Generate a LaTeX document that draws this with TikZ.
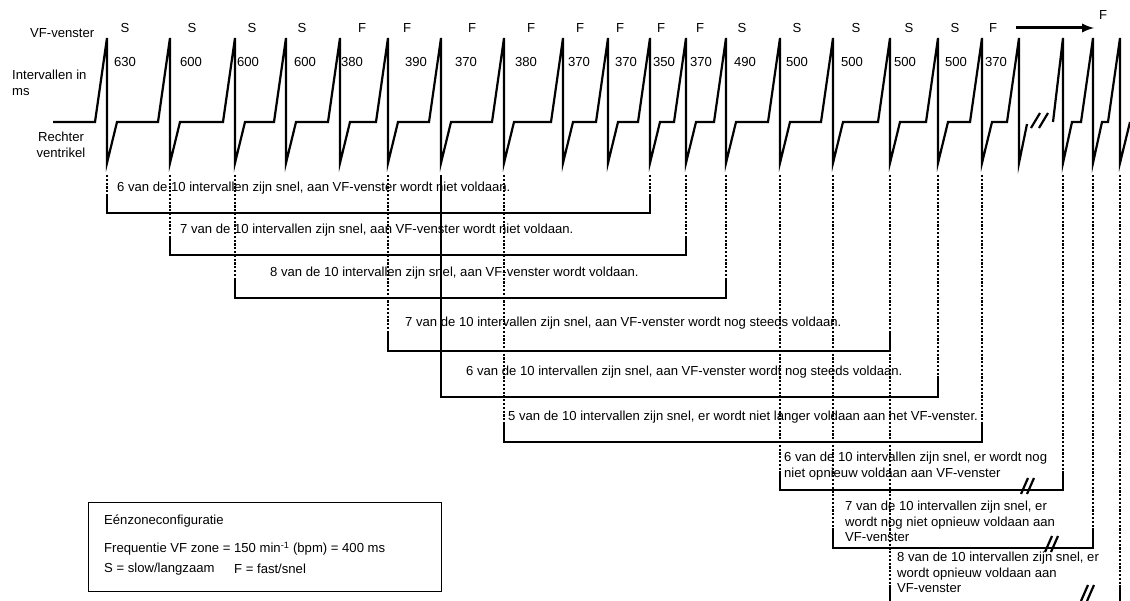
\documentclass[tikz,border=0pt]{standalone}
\usepackage{fontspec}
\setmainfont{Liberation Sans}

\begin{document}
\begin{tikzpicture}[x=1pt,y=-1pt]
 \tikzstyle{tekst}=[inner sep=0pt,font=\fontsize{13.1}{15.5}\selectfont]
 \tikzstyle{golf}=[line width=2.2pt]
 \tikzstyle{rand}=[line width=1.3pt]
 \tikzstyle{stip}=[line width=1.2pt,dash pattern=on 2.2pt off 1.6pt]
 \tikzstyle{pijl}=[->,>=latex,line width=3pt]
 \useasboundingbox (0,0) rectangle (1130,601);
 \clip (0,0) rectangle (1130,601);
 % labels links
 \node[tekst,anchor=west] (VF) at (30,33) {VF-venster};
 \node[tekst,anchor=north west,align=left] (IV) at (12,70) {Intervallen in\\ms};
 \node[tekst,anchor=north,align=center] (RV) at (61,132) {Rechter\\ventrikel};
 % S / F
 \node[tekst] (S1) at (125,28) {S};
 \node[tekst] (S2) at (192,28) {S};
 \node[tekst] (S3) at (252,28) {S};
 \node[tekst] (S4) at (302,28) {S};
 \node[tekst] (S5) at (362,28) {F};
 \node[tekst] (S6) at (407,28) {F};
 \node[tekst] (S7) at (472,28) {F};
 \node[tekst] (S8) at (531,28) {F};
 \node[tekst] (S9) at (580,28) {F};
 \node[tekst] (S10) at (620,28) {F};
 \node[tekst] (S11) at (661,28) {F};
 \node[tekst] (S12) at (700,28) {F};
 \node[tekst] (S13) at (742,28) {S};
 \node[tekst] (S14) at (797,28) {S};
 \node[tekst] (S15) at (856,28) {S};
 \node[tekst] (S16) at (909,28) {S};
 \node[tekst] (S17) at (955,28) {S};
 \node[tekst] (S18) at (993,28) {F};
 \node[tekst] (F) at (1103,15) {F};
 \coordinate (pijlA) at (1016,28);
 \coordinate (pijlB) at (1094,28);
 \draw[pijl] (pijlA)--(pijlB);
 % intervallen
 \node[tekst] (I1) at (125,62) {630};
 \node[tekst] (I2) at (191,62) {600};
 \node[tekst] (I3) at (248,62) {600};
 \node[tekst] (I4) at (305,62) {600};
 \node[tekst] (I5) at (352,62) {380};
 \node[tekst] (I6) at (416,62) {390};
 \node[tekst] (I7) at (466,62) {370};
 \node[tekst] (I8) at (526,62) {380};
 \node[tekst] (I9) at (579,62) {370};
 \node[tekst] (I10) at (626,62) {370};
 \node[tekst] (I11) at (664,62) {350};
 \node[tekst] (I12) at (701,62) {370};
 \node[tekst] (I13) at (745,62) {490};
 \node[tekst] (I14) at (797,62) {500};
 \node[tekst] (I15) at (852,62) {500};
 \node[tekst] (I16) at (905,62) {500};
 \node[tekst] (I17) at (956,62) {500};
 \node[tekst] (I18) at (996,62) {370};
 % rechter ventrikel
 \draw[golf] (53,122) -- (95,122) -- (107,38) -- (107,163) -- (117,122) -- (158,122) -- (170,38) -- (170,163) -- (180,122) -- (223,122) -- (235,38) -- (235,163) -- (245,122) -- (274,122) -- (286,38) -- (286,163) -- (296,122) -- (328,122) -- (340,38) -- (340,163) -- (350,122) -- (376,122) -- (388,38) -- (388,163) -- (398,122) -- (429,122) -- (441,38) -- (441,163) -- (451,122) -- (492,122) -- (504,38) -- (504,163) -- (514,122) -- (551,122) -- (563,38) -- (563,163) -- (573,122) -- (596,122) -- (608,38) -- (608,163) -- (618,122) -- (638,122) -- (650,38) -- (650,163) -- (660,122) -- (674,122) -- (686,38) -- (686,163) -- (696,122) -- (714,122) -- (726,38) -- (726,163) -- (736,122) -- (768,122) -- (780,38) -- (780,163) -- (790,122) -- (821,122) -- (833,38) -- (833,163) -- (843,122) -- (878,122) -- (890,38) -- (890,163) -- (900,122) -- (926,122) -- (938,38) -- (938,163) -- (948,122) -- (970,122) -- (982,38) -- (982,163) -- (992,122) -- (1007,122) -- (1019,38) -- (1019,163) -- (1027,124);
 \draw[golf] (1053,122) -- (1063,38) -- (1063,163) -- (1072,122) -- (1081,122) -- (1093,38) -- (1093,163) -- (1102,122) -- (1108,122) -- (1120,38) -- (1120,163) -- (1130,122);
 \draw[golf] (1031,128) -- (1040,113);
 \draw[golf] (1039,128) -- (1048,113);
 % slagen
 \coordinate (B1) at (107,175);
 \coordinate (B2) at (170,175);
 \coordinate (B3) at (235,175);
 \coordinate (B6) at (388,175);
 \coordinate (B7) at (441,175);
 \coordinate (B8) at (504,175);
 \coordinate (B11) at (650,175);
 \coordinate (B12) at (686,175);
 \coordinate (B13) at (726,175);
 \coordinate (B14) at (780,175);
 \coordinate (B15) at (833,175);
 \coordinate (B16) at (890,175);
 \coordinate (B17) at (938,175);
 \coordinate (B18) at (982,175);
 \coordinate (B20) at (1063,175);
 \coordinate (B21) at (1093,175);
 \coordinate (B22) at (1120,175);
 % vensters
 \coordinate (V1l) at (107,213);
 \coordinate (V1r) at (650,213);
 \coordinate (V2l) at (170,255);
 \coordinate (V2r) at (686,255);
 \coordinate (V3l) at (235,298);
 \coordinate (V3r) at (726,298);
 \coordinate (V4l) at (388,351);
 \coordinate (V4r) at (890,351);
 \coordinate (V5l) at (441,397);
 \coordinate (V5r) at (938,397);
 \coordinate (V6l) at (504,442);
 \coordinate (V6r) at (982,442);
 \coordinate (V7l) at (780,490);
 \coordinate (V7r) at (1063,490);
 \coordinate (V8l) at (833,548);
 \coordinate (V8r) at (1093,548);
 \coordinate (V9l) at (890,605);
 \coordinate (V9r) at (1120,605);
 \draw[stip] (B1)--(V1l);
 \draw[stip] (B11)--(V1r);
 \draw[stip] (B2)--(V2l);
 \draw[stip] (B12)--(V2r);
 \draw[stip] (B3)--(V3l);
 \draw[stip] (B13)--(V3r);
 \draw[stip] (B6)--(V4l);
 \draw[stip] (B16)--(V4r);
 \draw[rand] (B7)--(V5l);
 \draw[stip] (B17)--(V5r);
 \draw[stip] (B8)--(V6l);
 \draw[stip] (B18)--(V6r);
 \draw[stip] (B14)--(V7l);
 \draw[stip] (B20)--(V7r);
 \draw[stip] (B15)--(V8l);
 \draw[stip] (B21)--(V8r);
 \draw[stip] (B16)--(V9l);
 \draw[stip] (B22)--(V9r);
 \draw[rand] (V1l) ++(0,-18) -- (V1l) -- (V1r) -- ++(0,-18);
 \draw[rand] (V2l) ++(0,-18) -- (V2l) -- (V2r) -- ++(0,-18);
 \draw[rand] (V3l) ++(0,-18) -- (V3l) -- (V3r) -- ++(0,-18);
 \draw[rand] (V4l) ++(0,-18) -- (V4l) -- (V4r) -- ++(0,-18);
 \draw[rand] (V5l) ++(0,-18) -- (V5l) -- (V5r) -- ++(0,-18);
 \draw[rand] (V6l) ++(0,-18) -- (V6l) -- (V6r) -- ++(0,-18);
 \draw[rand] (V7l) ++(0,-18) -- (V7l) -- (V7r) -- ++(0,-18);
 \draw[rand] (V8l) ++(0,-18) -- (V8l) -- (V8r) -- ++(0,-18);
 \draw[rand] (V9l) ++(0,-18) -- (V9l) -- (V9r) -- ++(0,-18);
 \draw[golf] (1021,494) -- (1028,478);
 \draw[golf] (1027,494) -- (1034,478);
 \draw[golf] (1045,552) -- (1052,536);
 \draw[golf] (1051,552) -- (1058,536);
 \draw[golf] (1081,601) -- (1088,585);
 \draw[golf] (1087,601) -- (1094,585);
 % teksten
 \node[tekst,anchor=west] (T1) at (117,188) {6 van de 10 intervallen zijn snel, aan VF-venster wordt niet voldaan.};
 \node[tekst,anchor=west] (T2) at (180,230) {7 van de 10 intervallen zijn snel, aan VF-venster wordt niet voldaan.};
 \node[tekst,anchor=west] (T3) at (270,273) {8 van de 10 intervallen zijn snel, aan VF-venster wordt voldaan.};
 \node[tekst,anchor=west] (T4) at (405,323) {7 van de 10 intervallen zijn snel, aan VF-venster wordt nog steeds voldaan.};
 \node[tekst,anchor=west] (T5) at (466,372) {6 van de 10 intervallen zijn snel, aan VF-venster wordt nog steeds voldaan.};
 \node[tekst,anchor=west] (T6) at (508,417) {5 van de 10 intervallen zijn snel, er wordt niet langer voldaan aan het VF-venster.};
 \node[tekst,anchor=north west,align=left] (T7) at (784,452) {6 van de 10 intervallen zijn snel, er wordt nog\\niet opnieuw voldaan aan VF-venster};
 \node[tekst,anchor=north west,align=left] (T8) at (845,501) {7 van de 10 intervallen zijn snel, er\\wordt nog niet opnieuw voldaan aan\\VF-venster};
 \node[tekst,anchor=north west,align=left] (T9) at (897,552) {8 van de 10 intervallen zijn snel, er\\wordt opnieuw voldaan aan\\VF-venster};
 % legenda
 \node[draw,rand,anchor=north west,inner sep=0pt,minimum width=353pt,minimum height=89pt] (kader) at (88,502) {};
 \node[tekst,anchor=west] (L1) at (104,521) {Eénzoneconfiguratie};
 \node[tekst,anchor=west] (L2) at (104,549) {Frequentie VF zone = 150 min\textsuperscript{-1} (bpm) = 400 ms};
 \node[tekst,anchor=west] (L3) at (104,569) {S = slow/langzaam};
 \node[tekst,anchor=west] (L4) at (234,569) {F = fast/snel};
\end{tikzpicture}
\end{document}
